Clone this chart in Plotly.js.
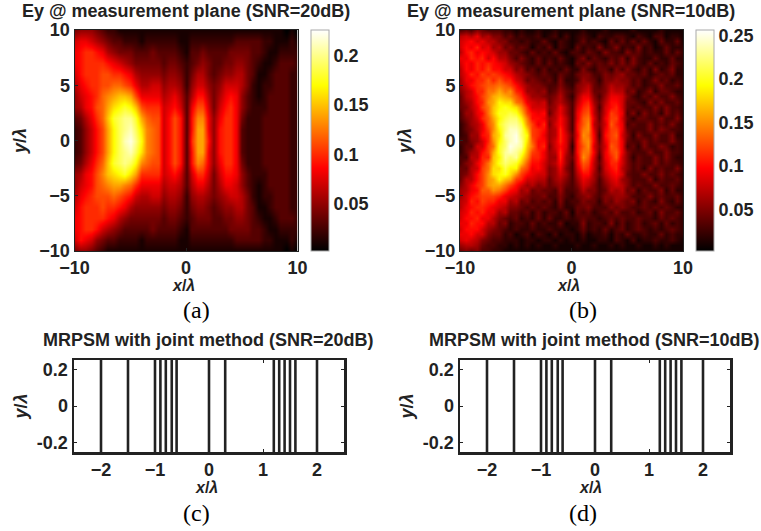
<!DOCTYPE html>
<html><head><meta charset="utf-8">
<script src="https://cdn.plot.ly/plotly-3.0.1.min.js"></script>
<style>html,body{margin:0;padding:0;background:#fff}#c{width:761px;height:531px}</style></head>
<body><div id="c"></div>
<script>
// In units of 0.01. Columns x = -10 ... 10 step 0.5.
const xGrid = [-10,-9.5,-9,-8.5,-8,-7.5,-7,-6.5,-6,-5.5,-5,-4.5,-4,-3.5,-3,-2.5,-2,-1.5,-1,-0.5,0,0.5,1,1.5,2,2.5,3,3.5,4,4.5,5,5.5,6,6.5,7,7.5,8,8.5,9,9.5,10];
const yGrid20 = [10,9,8,7,6,5,4,3,2,1,0,-1,-2,-3,-4,-5,-6,-7,-8,-9,-10];
const yGrid10 = [10,9.5,9,8.5,8,7.5,7,6.5,6,5.5,5,4.5,4,3.5,3,2.5,2,1.5,1,0.5,0,-0.5,-1,-1.5,-2,-2.5,-3,-3.5,-4,-4.5,-5,-5.5,-6,-6.5,-7,-7.5,-8,-8.5,-9,-9.5,-10];
const field20dB = [
[4,5,5,5,4,3,2,2,1,1,1,1,1,1,1,1,1,1,1,1,1,1,1,1,1,1,1,1,1,1,1,1,1,1,1,1,1,1,0,1,0],
[7,8,8,7,6,5,4,3,3,2,2,2,1,2,2,2,2,2,2,1,1,2,2,2,2,2,2,2,2,3,3,3,3,3,2,2,1,1,1,2,1],
[8,9,10,10,9,8,6,5,4,4,4,3,3,3,4,3,3,3,3,2,1,3,3,4,3,3,3,3,4,4,4,4,3,3,2,1,1,2,2,2,2],
[8,9,10,10,10,10,9,8,7,6,5,4,4,4,4,4,3,4,4,3,2,3,4,5,4,3,3,4,4,5,5,4,3,2,1,1,2,3,3,3,2],
[7,9,10,10,10,11,11,10,10,9,8,6,5,5,5,5,4,5,5,4,2,4,6,6,4,3,4,5,5,6,6,4,3,1,1,2,3,3,3,2,2],
[6,8,9,10,10,11,11,12,12,11,10,8,6,6,7,7,5,6,6,5,2,5,7,7,5,4,5,7,7,7,6,4,2,1,2,2,3,3,3,2,2],
[5,7,8,9,10,12,13,14,15,15,14,11,8,8,8,8,6,7,8,6,3,6,9,9,6,4,6,8,9,8,5,3,2,1,2,3,3,3,3,2,2],
[5,6,8,9,11,12,14,16,17,18,17,15,11,10,10,10,7,8,9,7,3,8,11,11,7,4,7,9,10,8,5,3,2,2,2,3,3,3,3,2,2],
[3,4,6,8,10,12,15,18,19,20,20,18,14,12,11,11,7,9,11,9,3,9,13,13,8,5,8,10,10,8,4,2,2,2,3,3,3,3,3,2,2],
[2,3,5,7,9,11,14,17,19,20,21,19,16,13,12,11,7,9,11,9,3,9,14,14,8,5,9,10,10,8,3,2,2,2,3,3,3,3,3,2,2],
[2,3,5,7,9,11,14,17,19,21,22,20,17,13,12,11,7,9,11,9,3,10,14,14,9,5,9,10,10,8,3,2,2,2,3,3,3,3,3,2,2],
[2,3,5,7,9,11,14,17,19,20,21,19,16,13,12,11,7,9,11,9,3,9,14,14,8,5,9,10,10,8,3,2,2,2,3,3,3,3,3,2,2],
[3,4,6,8,10,12,15,18,19,20,19,17,13,12,11,11,7,9,11,9,3,9,13,12,8,5,8,10,10,8,4,2,2,2,3,3,3,3,3,2,2],
[5,6,8,9,11,13,15,16,17,18,16,14,10,10,10,10,7,8,9,7,3,7,10,10,7,4,7,9,9,8,5,3,2,2,2,3,3,3,3,2,2],
[5,7,8,9,11,12,13,14,14,13,12,10,8,8,8,8,6,7,7,6,3,6,8,8,6,4,6,8,8,7,5,3,2,1,2,3,3,3,3,2,2],
[6,8,9,10,11,11,11,12,11,10,9,7,6,6,7,7,5,6,6,5,2,5,6,6,5,4,5,6,7,7,6,4,2,1,2,2,3,3,3,2,2],
[7,9,10,10,10,11,10,10,9,8,6,5,5,5,5,5,4,5,5,4,2,4,5,5,4,3,4,5,5,6,6,4,3,1,1,2,3,3,3,2,2],
[8,9,10,10,10,10,9,8,6,5,4,4,4,4,4,4,3,4,4,3,2,3,4,4,4,3,3,4,4,5,5,4,3,2,1,1,2,3,3,3,2],
[8,9,10,10,9,7,6,5,4,3,3,3,3,3,4,3,3,3,3,2,1,3,3,3,3,3,3,3,4,4,4,4,3,3,2,1,1,2,2,2,2],
[7,9,8,7,5,4,3,3,2,2,2,2,1,2,2,2,2,2,2,1,1,2,2,2,2,2,2,2,2,3,3,3,3,3,2,2,1,1,1,2,1],
[4,5,5,4,3,2,1,1,1,1,1,1,1,1,1,1,1,1,1,1,1,1,1,1,1,1,1,1,1,1,1,1,1,1,1,1,1,1,0,1,0]];
const field10dB = [
[3,4,3,5,4,3,3,3,2,2,1,2,1,1,2,1,1,2,1,1,1,1,2,1,1,1,2,1,1,1,1,2,1,1,1,1,2,1,1,1,1],
[7,8,7,9,6,7,5,5,3,4,2,3,2,2,3,1,2,3,1,3,1,2,3,2,1,3,2,2,3,3,2,1,3,2,1,3,3,1,2,2,1],
[8,9,10,8,9,7,7,5,5,3,3,2,3,2,2,4,2,1,3,2,1,2,4,2,3,2,1,4,2,4,2,4,2,4,2,1,4,2,2,4,1],
[8,10,9,11,8,9,6,7,4,5,3,4,3,1,3,2,4,1,3,2,1,4,2,3,2,5,2,3,5,2,3,2,5,2,3,1,2,4,2,2,2],
[7,10,11,9,10,9,8,6,6,4,4,3,2,4,2,3,2,4,2,1,3,3,2,4,3,2,5,3,3,2,5,3,4,2,3,2,2,4,2,4,2],
[9,9,11,10,11,8,10,7,7,5,3,5,3,2,4,2,3,2,4,2,1,3,5,2,4,3,2,4,3,5,2,5,3,2,2,4,2,2,4,2,2],
[8,10,9,11,10,11,10,9,8,6,5,4,3,2,4,2,4,2,3,2,1,4,3,5,3,4,3,5,3,5,3,5,3,2,4,2,3,2,4,3,2],
[7,10,9,11,10,12,10,10,8,8,5,6,3,4,2,4,2,3,2,4,2,2,5,3,2,4,4,2,5,3,5,3,2,4,2,5,2,3,5,2,2],
[7,9,11,10,12,11,12,11,10,9,7,6,5,4,3,4,3,2,4,3,2,4,5,5,3,3,5,4,5,6,4,4,3,4,2,3,4,3,4,2,2],
[6,9,9,11,11,13,11,13,11,11,8,7,4,5,4,3,4,2,5,2,2,3,6,5,4,2,5,5,6,5,5,3,4,2,3,5,3,4,2,3,2],
[6,8,10,11,12,13,13,14,13,12,10,8,6,5,5,4,3,3,5,3,2,5,6,7,4,3,5,7,6,6,5,3,4,2,3,3,5,3,3,4,2],
[5,7,8,11,11,14,14,16,14,15,11,10,6,6,5,6,3,4,6,4,3,5,7,8,4,4,5,8,7,7,4,5,2,3,5,2,4,4,3,2,2],
[4,7,8,10,12,14,16,17,16,15,13,11,8,6,6,5,4,5,7,4,2,6,9,9,5,3,6,9,9,8,5,3,2,4,3,5,3,3,5,3,2],
[4,6,7,10,11,15,16,19,18,18,14,13,9,8,7,8,4,6,7,5,3,7,10,11,6,4,7,10,10,8,4,4,3,2,5,3,5,3,3,4,2],
[4,5,7,9,12,14,17,19,20,19,18,15,11,8,8,8,5,6,9,6,3,8,11,12,7,3,8,10,11,8,4,3,4,3,3,5,3,5,3,3,2],
[3,6,6,9,10,14,17,20,20,21,20,17,12,10,9,10,4,7,9,6,3,9,12,13,7,4,8,12,11,9,3,5,2,5,3,4,2,5,3,4,2],
[3,5,6,8,11,13,16,19,21,22,22,19,14,10,10,9,6,7,10,7,3,9,13,14,8,4,9,12,12,8,4,2,4,4,3,3,5,3,3,5,2],
[2,4,6,7,9,13,15,20,22,23,23,21,15,12,9,11,5,8,10,7,3,10,13,15,7,5,8,13,11,9,3,4,3,3,5,3,4,3,5,3,2],
[2,4,5,7,9,12,15,19,22,24,24,22,17,12,11,10,6,7,11,7,3,10,14,15,8,4,9,12,12,9,4,3,3,3,5,3,5,4,3,3,2],
[2,3,6,6,10,11,16,18,23,24,25,22,19,12,11,9,6,7,11,8,4,9,15,14,9,3,10,12,13,8,5,2,5,3,3,5,3,3,5,2,2],
[3,3,5,6,8,11,15,19,22,24,25,23,18,13,10,10,6,8,11,8,3,10,14,15,9,4,9,12,12,9,4,3,3,5,3,4,3,3,5,3,2],
[2,4,4,8,8,12,14,20,22,25,24,23,17,14,10,11,5,8,10,8,2,10,13,15,8,5,8,13,12,9,3,4,2,5,3,3,5,4,2,3,2],
[2,4,6,7,10,12,16,20,23,24,23,21,16,12,11,9,6,7,11,7,3,10,14,14,9,4,9,12,13,9,5,3,3,3,5,3,3,5,3,3,2],
[3,3,7,7,11,11,17,19,23,22,23,19,15,11,11,9,6,6,11,6,4,9,15,13,8,3,9,11,13,8,5,2,4,3,3,5,3,5,3,2,2],
[3,5,6,9,11,14,17,20,22,21,20,17,13,10,10,8,6,7,10,6,3,9,13,12,7,4,8,11,11,8,5,3,4,3,3,5,3,4,3,3,2],
[4,4,7,8,12,14,18,18,21,19,19,14,12,9,10,8,5,6,9,5,3,8,12,11,7,3,8,10,11,7,5,3,4,2,5,3,4,3,3,5,2],
[4,5,7,10,12,15,18,19,20,18,15,12,10,9,8,8,5,6,8,6,3,7,10,10,6,4,7,9,10,8,4,3,3,5,3,3,5,3,4,3,2],
[4,7,7,10,12,15,16,19,17,16,12,11,8,8,7,7,4,6,7,5,3,6,9,8,6,3,6,8,9,6,5,3,3,3,5,2,4,3,3,4,2],
[5,7,9,11,12,15,16,16,14,12,10,8,6,7,5,6,4,5,6,4,3,5,8,7,5,3,5,7,8,7,5,3,4,3,3,5,3,3,4,3,2],
[6,7,9,10,13,13,15,14,12,10,9,6,7,4,5,4,4,3,6,3,3,4,7,5,5,3,4,7,6,7,4,5,2,4,3,3,5,2,4,2,2],
[6,8,10,11,12,12,12,11,9,8,7,6,5,4,4,5,3,3,5,3,2,4,5,6,4,3,5,5,6,6,5,3,3,3,5,3,4,3,3,4,2],
[7,8,11,10,12,11,11,9,9,6,7,4,5,3,4,3,4,2,5,2,3,3,5,4,4,2,5,4,6,5,4,5,2,4,3,2,5,3,2,4,2],
[7,9,10,11,11,10,9,8,7,5,5,4,3,4,3,4,3,2,4,2,2,4,4,5,3,3,3,5,4,5,4,3,3,4,3,4,3,4,3,2,2],
[8,9,11,10,11,9,9,6,7,4,4,3,4,2,4,2,3,3,2,4,1,4,3,4,2,3,4,3,5,3,3,4,2,3,4,2,5,3,3,4,2],
[8,10,10,11,9,9,7,5,4,3,4,2,3,2,4,2,4,2,2,3,2,3,4,3,3,2,3,4,3,4,3,3,4,3,3,2,4,3,4,3,2],
[9,9,11,10,10,7,7,4,5,2,3,3,2,4,2,3,2,2,4,1,2,2,5,2,3,3,2,5,2,4,2,3,4,2,3,4,2,4,2,3,2],
[8,10,10,10,8,6,5,4,3,2,3,2,2,3,2,2,3,2,2,2,1,2,4,2,3,2,4,2,3,4,2,3,4,3,2,3,2,3,4,3,2],
[9,9,10,8,8,5,4,4,2,3,1,2,3,1,3,2,1,3,1,2,2,1,3,1,2,2,3,1,3,2,4,2,2,3,2,2,4,2,3,2,2],
[8,9,8,7,5,4,3,3,2,2,2,1,2,2,1,2,2,1,2,1,2,1,2,1,1,2,2,1,3,2,1,3,1,2,2,3,2,2,3,2,1],
[6,7,7,6,4,3,3,2,2,1,2,1,2,1,2,1,1,2,1,1,1,2,1,1,2,1,1,2,1,2,1,1,2,1,1,2,1,2,1,1,1],
[4,5,4,5,3,3,2,2,1,1,1,1,1,1,1,1,1,1,1,1,1,1,1,1,1,1,1,1,1,1,1,1,1,1,1,1,1,1,1,1,1]];
const elementPositions = [-2,-1.5,-1,-0.9,-0.8,-0.69,-0.6,0,0.3,1.2,1.3,1.4,1.5,1.6,2];
const barTicks20 = [0.05,0.1,0.15,0.2];
const barTicks10 = [0.05,0.1,0.15,0.2,0.25];
const heatTitles = ['Ey @ measurement plane (SNR=20dB)','Ey @ measurement plane (SNR=10dB)'];
const arrayTitles = ['MRPSM with joint method (SNR=20dB)','MRPSM with joint method (SNR=10dB)'];
const captions = ['(a)','(b)','(c)','(d)'];

const W=761,H=531, INK='#222222', SANS='"Liberation Sans", Arial, sans-serif';
const hot=[[0,'#000000'],[0.375,'#ff0000'],[0.75,'#ffff00'],[1,'#ffffff']];
const dx=a=>[a[0]/W,a[1]/W], dy=a=>[1-a[1]/H,1-a[0]/H];
const tf={family:SANS,size:18,color:INK,weight:'bold'};
const axisTitle=(t,s)=>({text:'<b><i>'+t+'</i>/<i>λ</i></b>',font:{family:SANS,size:18,color:INK},standoff:s});
const xLabel='<b><i>x</i>/<i>λ</i></b>';
const scale=g=>g.map(r=>r.map(v=>v*0.01));

function heat(z,y,xa,ya,zmin,zmax,ticks,barLeft){
  return {type:'heatmap',x:xGrid,y:y,z:scale(z),xaxis:xa,yaxis:ya,zmin,zmax,colorscale:hot,zsmooth:'best',
    colorbar:{x:barLeft/W,xanchor:'left',xpad:0,ypad:0,y:1-30/H,yanchor:'top',len:221/H,lenmode:'fraction',thickness:18,thicknessmode:'pixels',
      tickvals:ticks,ticktext:ticks.map(String),ticks:'',tickfont:tf,outlinecolor:'#aaa',outlinewidth:1}};
}
function bars(xa,ya){
  return elementPositions.map(p=>({type:'scatter',mode:'lines',x:[p,p],y:[-0.25,0.25],xaxis:xa,yaxis:ya,showlegend:false,
    line:{color:INK,width:2.6}}));
}
const heatX=d=>({domain:dx(d),range:[-10,10],tickvals:[-10,0,10],ticks:'inside',ticklen:3,tickcolor:INK,tickfont:tf,
  showline:true,mirror:true,linecolor:INK,linewidth:1,showgrid:false,zeroline:false});
const heatY=()=>({domain:dy([30,251]),range:[-10,10],tickvals:[-10,-5,0,5,10],ticks:'inside',ticklen:3,tickcolor:INK,tickfont:tf,
  showline:true,mirror:true,linecolor:INK,linewidth:1,showgrid:false,zeroline:false,title:axisTitle('y',8)});
const arrX=d=>({domain:dx(d),range:[-2.5,2.5],tickvals:[-2,-1,0,1,2],ticks:'inside',ticklen:3,tickcolor:INK,tickfont:tf,
  showline:true,mirror:'ticks',linecolor:INK,linewidth:2.5,showgrid:false,zeroline:false});
const arrY=()=>({domain:dy([360,452]),range:[-0.25,0.25],tickvals:[-0.2,0,0.2],ticktext:['-0.2','0','0.2'],ticks:'inside',ticklen:3,tickcolor:INK,tickfont:tf,
  showline:true,mirror:'ticks',linecolor:INK,linewidth:2.5,showgrid:false,zeroline:false,title:axisTitle('y',5)});

const data=[heat(field20dB,yGrid20,'x','y',0.002,0.226,barTicks20,311),
  heat(field10dB,yGrid10,'x2','y2',0.002,0.256,barTicks10,696),
  ...bars('x3','y3'),...bars('x4','y4')];

const note=(t,px,py,font)=>({text:t,xref:'paper',yref:'paper',x:px/W,y:1-py/H,xanchor:'center',yanchor:'middle',showarrow:false,font});
const tfont={family:SANS,size:18,color:INK,weight:'bold'};
const lfont={family:SANS,size:16,color:INK};
const cfont={family:'"Liberation Serif", serif',size:24,color:'#000'};
const layout={width:W,height:H,margin:{l:0,r:0,t:0,b:0,pad:0},paper_bgcolor:'#fff',plot_bgcolor:'#fff',showlegend:false,
  xaxis:heatX([74.5,297.5]),yaxis:heatY(),
  xaxis2:Object.assign(heatX([460,683]),{anchor:'y2'}),yaxis2:Object.assign(heatY(),{anchor:'x2'}),
  xaxis3:Object.assign(arrX([74,344]),{anchor:'y3'}),yaxis3:Object.assign(arrY(),{anchor:'x3'}),
  xaxis4:Object.assign(arrX([460,730]),{anchor:'y4'}),yaxis4:Object.assign(arrY(),{anchor:'x4'}),
  annotations:[note(heatTitles[0],186,11,tfont),note(heatTitles[1],570.5,11,tfont),
    note(arrayTitles[0],208,340,tfont),note(arrayTitles[1],594.5,340,tfont),
    note(xLabel,183,285,lfont),note(xLabel,568,285,lfont),
    note(xLabel,207,487,lfont),note(xLabel,590,487,lfont),
    note(captions[0],197,310,cfont),note(captions[1],583,310,cfont),
    note(captions[2],197,513,cfont),note(captions[3],583,513,cfont)]};
Plotly.newPlot('c',data,layout,{displayModeBar:false,staticPlot:true});
</script></body></html>
